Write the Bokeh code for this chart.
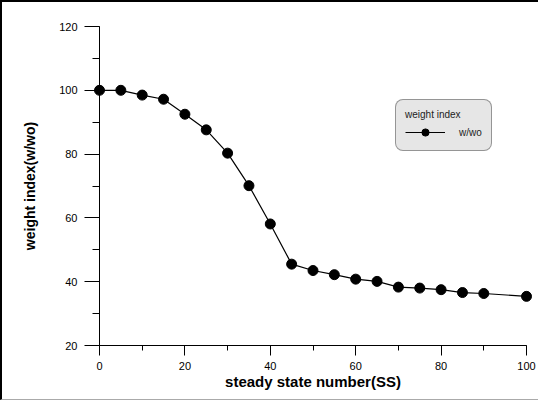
from bokeh.plotting import figure
from bokeh.models import (Range1d, SingleIntervalTicker, Legend, LegendItem)
from bokeh.embed import file_html
from bokeh.resources import INLINE

# data
ss = [0, 5, 10, 15, 20, 25, 30, 35, 40, 45, 50, 55, 60, 65, 70, 75, 80, 85, 90, 100]
weight_index = [100.0, 100.0, 98.5, 97.2, 92.5, 87.6, 80.3, 70.1, 58.1, 45.5,
                43.5, 42.2, 40.8, 40.1, 38.3, 38.0, 37.5, 36.6, 36.3, 35.4]
x_ticks = [0, 20, 40, 60, 80, 100]
y_ticks = [20, 40, 60, 80, 100, 120]
series_name = "w/wo"
legend_title = "weight index"
x_label = "steady state number(SS)"
y_label = "weight index(w/wo)"

FONT = "Liberation Sans"

p = figure(frame_width=427, frame_height=319,
           x_range=Range1d(x_ticks[0], x_ticks[-1]),
           y_range=Range1d(y_ticks[0], y_ticks[-1]),
           output_backend="svg", toolbar_location=None,
           min_border_left=97, min_border_right=12,
           min_border_top=24, min_border_bottom=54)
p.styles = {"border-top": "2px solid black",
            "border-left": "2px solid black",
            "border-bottom": "1px solid #aaaaaa"}
p.outline_line_color = None
p.xgrid.visible = False
p.ygrid.visible = False
p.background_fill_color = "white"
p.border_fill_color = "white"

# axes
xa = p.xaxis[0]
xa.ticker = SingleIntervalTicker(interval=20, num_minor_ticks=2)
xa.major_tick_out = 10
xa.major_tick_in = 0
xa.minor_tick_out = 5
xa.minor_tick_in = 0
xa.major_label_standoff = 6
xa.axis_label = x_label
xa.axis_label_standoff = 0
xa.axis_label_text_font = FONT
xa.axis_label_text_font_style = "bold"
xa.axis_label_text_font_size = "15px"
xa.axis_label_text_color = "black"
xa.major_label_text_font = FONT
xa.major_label_text_font_size = "11px"
xa.major_label_text_color = "black"
xa.axis_line_color = "black"
xa.major_tick_line_color = "black"
xa.minor_tick_line_color = "black"

ya = p.yaxis[0]
ya.ticker = SingleIntervalTicker(interval=20, num_minor_ticks=2)
ya.major_tick_out = 15
ya.major_tick_in = 0
ya.minor_tick_out = 7
ya.minor_tick_in = 0
ya.major_label_standoff = 7
ya.axis_label = y_label
ya.axis_label_standoff = 18
ya.axis_label_text_font = FONT
ya.axis_label_text_font_style = "bold"
ya.axis_label_text_font_size = "14px"
ya.axis_label_text_color = "black"
ya.major_label_text_font = FONT
ya.major_label_text_font_size = "11px"
ya.major_label_text_color = "black"
ya.axis_line_color = "black"
ya.major_tick_line_color = "black"
ya.minor_tick_line_color = "black"

# series (overlay level so that edge markers are not clipped by the frame)
ln = p.line(ss, weight_index, line_color="black", line_width=1.2, level="overlay")
sc = p.scatter(ss, weight_index, marker="circle", size=10,
               fill_color="black", line_color="black", level="overlay")

legend = Legend(items=[LegendItem(label=series_name, renderers=[ln, sc])],
                location=(296, 194), title=legend_title,
                title_text_font=FONT, title_text_font_size="10px",
                title_text_font_style="normal", title_text_color="#222222",
                title_standoff=3,
                label_text_font=FONT, label_text_font_size="10px",
                label_text_color="#222222",
                glyph_width=40, glyph_height=18, label_standoff=14,
                padding=9, margin=0, spacing=0,
                background_fill_color="#e6e6e6", background_fill_alpha=1.0,
                border_line_color="#444444", border_line_width=1)
if "border_radius" in Legend.properties():
    legend.border_radius = 8
p.add_layout(legend, "center")

open("out.html", "w").write(file_html(p, INLINE))
